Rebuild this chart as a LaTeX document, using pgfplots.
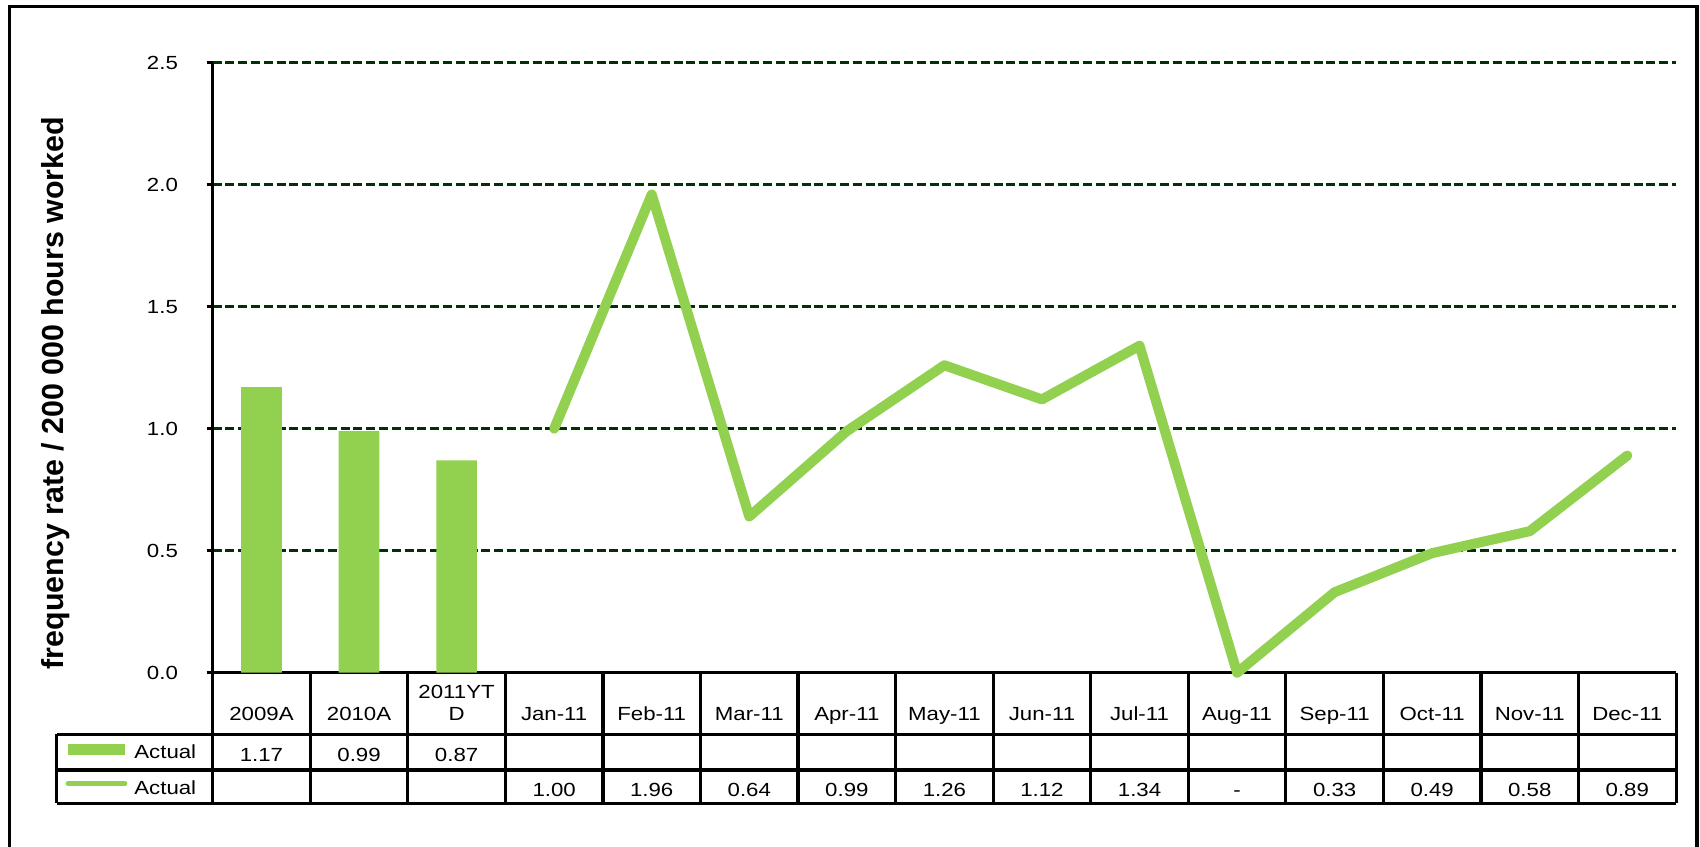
\documentclass[border=0pt]{standalone}
\usepackage{fontspec}
\setmainfont{Liberation Sans}[FakeStretch=1.17]
\newfontfamily\ylfont{Liberation Sans}
\usepackage{pgfplots}
\usepackage{pgfplotstable}
\pgfplotsset{compat=1.18}
\definecolor{barGreen}{HTML}{92D050}
\definecolor{gridGreen}{RGB}{0,51,0}

\pgfplotstableread{
x y lab
0 1.17 1.17
1 0.99 0.99
2 0.87 0.87
}\bardata

\pgfplotstableread{
x y lab
3 1.00 1.00
4 1.96 1.96
5 0.64 0.64
6 0.99 0.99
7 1.26 1.26
8 1.12 1.12
9 1.34 1.34
10 0.00 -
11 0.33 0.33
12 0.49 0.49
13 0.58 0.58
14 0.89 0.89
}\linedata

\newcommand{\tabfont}{\fontsize{9.5bp}{11bp}\selectfont}

\begin{document}
\begin{tikzpicture}
\useasboundingbox (-106.35bp,-87.15bp) rectangle (743.65bp,336.35bp);
\begin{axis}[
  scale only axis,
  width=731.7bp, height=305bp,
  at={(0,0)}, anchor=south west,
  xmin=-0.5, xmax=14.5,
  ymin=0, ymax=2.5,
  clip=false,
  axis x line*=bottom,
  axis y line*=left,
  axis line style={line width=1.7bp, black},
  xtick={0,...,14},
  xticklabels={2009A,2010A,{2011YT\\D},Jan-11,Feb-11,Mar-11,Apr-11,May-11,Jun-11,Jul-11,Aug-11,Sep-11,Oct-11,Nov-11,Dec-11},
  xtick style={draw=none},
  xticklabel style={anchor=center, yshift=-17.6bp, align=center, text height=6.8bp, text depth=0pt, font=\tabfont, inner sep=0pt},
  ytick={0,0.5,1,1.5,2,2.5},
  yticklabels={0.0,0.5,1.0,1.5,2.0,2.5},
  ytick style={line width=1.5bp, black},
  major tick length=3bp,
  tick align=outside,
  every y tick label/.style={anchor=east, inner sep=0pt, xshift=-14.2bp, font=\tabfont, text height=6.8bp, text depth=0pt},
  ymajorgrids,
  major grid style={line width=1.3bp, gridGreen, dash pattern=on 4.5bp off 1.9bp},
  ylabel={\ylfont\bfseries\fontsize{15.2bp}{17bp}\selectfont frequency rate / 200 000 hours worked},
  ylabel style={at={(axis description cs:-0.1075,0.4584)}, anchor=center, rotate=0},
]
\addplot[ybar, bar width=20.3bp, fill=barGreen, draw=none] table[x=x, y=y]{\bardata};
\addplot[barGreen, line width=5bp, line join=round, line cap=round, mark=none] table[x=x, y=y]{\linedata};
\addplot[draw=none, mark=none, forget plot, point meta=explicit symbolic, nodes near coords,
  nodes near coords style={anchor=center, yshift=-40.75bp, text=black, font=\tabfont, text height=6.8bp, text depth=0pt, inner sep=0pt}]
  table[x=x, y expr=0, meta=lab]{\bardata};
\addplot[draw=none, mark=none, forget plot, point meta=explicit symbolic, nodes near coords,
  nodes near coords style={anchor=center, yshift=-58.5bp, text=black, font=\tabfont, text height=6.8bp, text depth=0pt, inner sep=0pt}]
  table[x=x, y expr=0, meta=lab]{\linedata};
\end{axis}
% table grid
\foreach \i in {0,...,15} {
  \draw[line width=1.6bp] (\i*48.78bp,0) -- (\i*48.78bp,-65.3bp);
}
\draw[line width=1.6bp] (-78bp,-30.8bp) -- (731.7bp,-30.8bp);
\draw[line width=1.6bp] (-78bp,-48.65bp) -- (731.7bp,-48.65bp);
\draw[line width=1.6bp] (-78bp,-65.3bp) -- (731.7bp,-65.3bp);
\draw[line width=1.6bp] (-78bp,-30.8bp) -- (-78bp,-65.3bp);
% legend keys
\fill[barGreen] (-72.35bp,-41bp) rectangle (-43.85bp,-35.8bp);
\draw[barGreen, line width=2.4bp, line cap=round] (-72.35bp,-55.5bp) -- (-43.85bp,-55.5bp);
\node[anchor=west, inner sep=0pt, text height=6.8bp, text depth=0pt, font=\tabfont] at (-39.35bp,-39.65bp) {Actual};
\node[anchor=west, inner sep=0pt, text height=6.8bp, text depth=0pt, font=\tabfont] at (-39.35bp,-57.4bp) {Actual};
% outer frame
\draw[line width=1.5bp] (-101.45bp,-95bp) -- (-101.45bp,332.85bp) -- (742.15bp,332.85bp);
\draw[line width=2bp] (742.15bp,333.6bp) -- (742.15bp,-95bp);
\end{tikzpicture}
\end{document}
